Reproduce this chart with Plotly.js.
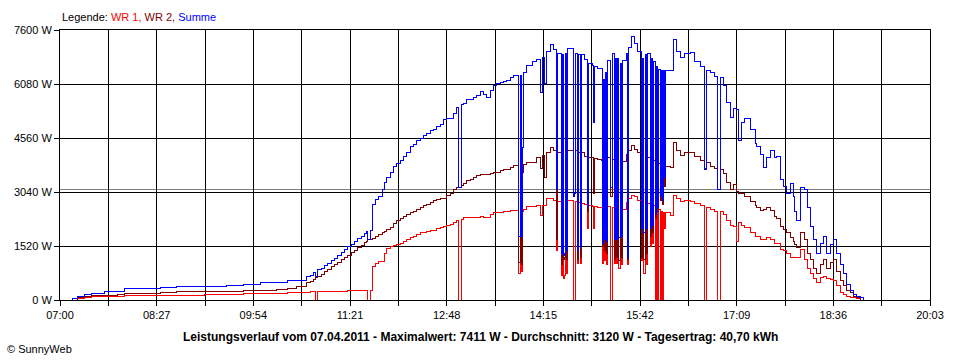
<!DOCTYPE html>
<html>
<head>
<meta charset="utf-8">
<script src="https://cdn.plot.ly/plotly-3.0.1.min.js"></script>
<style>
html,body{margin:0;padding:0;background:#fff;}
#chart{width:960px;height:360px;}
#chart .scatterlayer path, #chart .layer-below path, #chart .gridlayer path{shape-rendering:crispEdges;}
</style>
</head>
<body>
<div id="chart"></div>
<script>
// ---- data (time of day, watts) ----
const times = [
// morning
"07:08","07:11","07:16","07:22","07:28","07:40","07:52","07:58","08:15","08:30",
"08:45","09:10","09:30","09:45","10:00","10:15","10:25","10:33","10:42",
"10:45","10:48","10:50","10:52","10:55","10:58","11:01","11:04","11:07","11:10",
"11:13","11:16","11:19","11:22","11:25","11:28","11:31","11:34","11:36","11:37","11:39",
// midday ramp
"11:41","11:44","11:47","11:50","11:52","11:54","11:57","12:00","12:03","12:06",
"12:09","12:12","12:15","12:18","12:21","12:24","12:27","12:30","12:33","12:36",
"12:39","12:42","12:45","12:48","12:51","12:54","12:57","12:59","13:01","13:03",
"13:06","13:09","13:12","13:15","13:18","13:21","13:24","13:27","13:30","13:33",
"13:36","13:39","13:42","13:45","13:48","13:52",
// cloudy afternoon
"13:53","13:54","13:55","13:56","13:57","14:00","14:05",
"14:09","14:12","14:14","14:16","14:18","14:21","14:24","14:27","14:28","14:31",
"14:32","14:33","14:34","14:35","14:36","14:37","14:40","14:42","14:43","14:44",
"14:46","14:47","14:48","14:49","14:52","14:55","14:56","14:59","15:00","15:01",
"15:04","15:07","15:08","15:09","15:10","15:11","15:12","15:13","15:15","15:16",
"15:17","15:19","15:20","15:21","15:22","15:23","15:24","15:25","15:26","15:30",
"15:31","15:32","15:34","15:37","15:40","15:43","15:44","15:45","15:46","15:47",
"15:48","15:49","15:51","15:52","15:53","15:54","15:56","15:57","15:58","15:59",
"16:00","16:01","16:02","16:03","16:04","16:05","16:09","16:12","16:15","16:18",
"16:22","16:27","16:31","16:36","16:40","16:41","16:42","16:45","16:49","16:52",
"16:53","16:54","16:57","17:00","17:03","17:06","17:09","17:11","17:13","17:16",
"17:21","17:26","17:27","17:30","17:33","17:36","17:39","17:43","17:45","17:48",
"17:51","17:54","17:57","18:00","18:01","18:03","18:06","18:10","18:13","18:15",
"18:18","18:21","18:24","18:27","18:30","18:33","18:36","18:39","18:42","18:45",
"18:48","18:51","18:54","18:57","19:00","19:03"
];
const wr1 = [
0,0,50,60,95,95,95,140,140,140,
140,150,160,190,190,190,200,200,220,
230,235,0,235,235,235,235,235,240,240,
245,250,255,260,265,270,275,280,280,0,280,
940,1040,1070,1070,1320,1460,1500,1530,1550,1600,
1650,1690,1750,1800,1850,1890,1910,1930,1950,1970,
2000,2030,2060,2100,2130,2170,2250,0,2280,2310,
2310,2310,2310,2330,2340,2330,2330,2400,2450,2450,
2450,2480,2500,2520,2530,2530,
760,2530,800,2500,2560,2620,2620,
2670,2390,2670,2650,2870,2870,2800,1400,2760,700,
2800,600,700,2780,750,2810,2810,0,0,2760,
1040,2750,1040,2730,2680,2000,2650,2620,2000,2620,
2600,2590,1040,2590,1100,2600,1000,2620,0,0,
2590,1040,2560,1040,2550,900,2530,1000,2560,2750,
1000,2850,2950,2900,2800,1100,2780,760,760,2720,
1000,2720,1500,2700,1600,2650,0,2600,0,2550,
0,2500,0,2450,2000,2450,2390,2950,2850,2760,
2800,2760,2720,2670,0,0,2600,2550,2500,0,
0,2480,2400,2250,2100,2060,1650,2170,2100,2050,
1890,1800,1780,1690,1700,1750,1690,1600,1580,1410,
1380,1320,1200,1200,1210,1210,1410,1150,900,760,
600,480,620,650,600,580,560,400,200,150,
100,80,60,30,0,0
];
const wr2 = [
0,0,60,100,140,140,150,190,190,200,
235,235,240,280,280,290,330,375,480,
530,580,620,655,730,800,860,930,990,1050,
1130,1200,1260,1330,1400,1470,1540,1610,1660,1690,1700,
1720,1790,1850,1900,1940,1980,2050,2150,2250,2300,
2360,2420,2460,2500,2550,2590,2650,2700,2750,2800,
2830,2850,2870,2930,2990,3100,3180,3180,3230,3290,
3350,3400,3460,3500,3520,3530,3540,3570,3580,3600,
3640,3660,3680,3730,3780,3800,
1050,3800,1000,3600,3820,3880,3880,
4000,3700,4080,3460,4140,4280,4200,1700,4140,1000,
4150,1130,1200,4180,1130,4220,4220,2900,3000,4200,
1130,4150,1200,4140,4050,2500,4000,4000,3000,3980,
3950,3940,1500,3940,1400,3950,1300,4000,2900,2900,
3960,1130,3900,1200,3900,1100,3860,1200,3900,4100,
1130,4200,4360,4250,4150,1200,4100,1130,1130,4050,
1300,4000,1800,3960,1900,3940,2300,3900,2500,3850,
2800,3800,2700,3780,3200,3760,3740,4420,4200,4080,
4150,4140,4050,3940,3700,3700,3860,3750,3700,3100,
3100,3660,3550,3320,3100,3250,3050,3010,3010,2900,
2760,2650,2600,2530,2550,2600,2530,2350,2300,2060,
1980,1890,1750,1650,1550,1490,1890,1700,1300,1130,
900,760,1000,1130,900,1050,1130,800,560,400,
280,200,100,60,0,0
];
const summe = [
0,40,110,160,190,235,235,330,330,360,
375,390,420,440,490,500,540,560,650,
700,780,655,845,900,980,1040,1100,1170,1240,
1330,1420,1500,1570,1650,1720,1800,1870,1920,1690,1970,
2700,2830,2900,3100,3300,3460,3600,3745,3850,3940,
4050,4150,4310,4380,4480,4560,4620,4700,4760,4800,
4870,4950,5070,5100,5120,5260,5430,3180,5500,5540,
5630,5650,5700,5760,5860,5780,5690,5900,6050,6100,
6130,6150,6190,6250,6330,6330,
1780,6330,1800,4280,6400,6610,6700,
6760,5830,6840,6100,7000,7180,7050,3100,6950,1300,
6900,1250,1300,6950,1400,7090,7090,2900,3000,6950,
1400,6900,1500,6900,6760,2620,6650,6610,5000,6580,
6530,6530,1600,6200,1700,6400,1650,6750,3180,3180,
6950,1700,6800,1690,6800,1750,6670,1800,6750,6950,
1200,7100,7411,7230,7000,2000,6800,1890,1890,6900,
2000,6950,2000,6800,2100,6700,2400,6560,2600,6500,
2900,6470,2800,6470,3460,6470,6470,7320,7000,6840,
6950,6980,6700,6560,3660,3660,6470,6390,6300,3100,
3100,6250,6050,5570,5150,5400,5350,4500,5000,5100,
4790,4400,4310,4100,3740,4000,4220,4000,4030,3380,
3200,3010,3290,2900,2500,2250,3180,3100,2600,2060,
1700,1320,1600,1780,1320,1550,1690,1320,1000,760,
450,280,150,90,60,0
];
const durchschnitt = 3120;
const xTickLabels = ["07:00","","08:27","","09:54","","11:21","","12:48","","14:15","","15:42","","17:09","","18:36","","20:03"];
const yTickValues = [0,1520,3040,4560,6080,7600];
const seriesNames = ["WR 1","WR 2","Summe"];
const titleText = "Leistungsverlauf vom 07.04.2011 - Maximalwert: 7411 W - Durchschnitt: 3120 W - Tagesertrag: 40,70 kWh";

// ---- helpers ----
function toMin(s){ const p = s.split(":"); return (+p[0])*60 + (+p[1]); }
const xs = times.map(toMin);
const x0 = toMin(xTickLabels[0]);
const x1 = toMin(xTickLabels[xTickLabels.length-1]);
const step = (x1 - x0) / (xTickLabels.length - 1);
const xTickVals = xTickLabels.map((_, i) => x0 + i*step);

const FONT = "Liberation Sans, Arial, sans-serif";
function trace(y, name, color){
  return {x: xs, y: y, name: name, type: "scatter", mode: "lines",
          line: {color: color, width: 1, shape: "hv"}, hoverinfo: "skip"};
}
const data = [
  trace(wr1, seriesNames[0], "#ff0000"),
  trace(wr2, seriesNames[1], "#800000"),
  trace(summe, seriesNames[2], "#0000ff")
];

const axisCommon = {
  showline: true, mirror: true, linecolor: "#000", linewidth: 1,
  showgrid: true, gridcolor: "#000", gridwidth: 1, zeroline: false,
  ticks: "outside", ticklen: 5, tickcolor: "#000", tickwidth: 1,
  tickfont: {family: FONT, size: 11, color: "#000"}, fixedrange: true
};

const layout = {
  width: 960, height: 360,
  margin: {l: 60, r: 30, t: 30, b: 60, pad: 0},
  paper_bgcolor: "#fff", plot_bgcolor: "#fff",
  showlegend: false,
  font: {family: FONT, size: 11, color: "#000"},
  xaxis: Object.assign({}, axisCommon, {
    range: [x0, x1], tickmode: "array", tickvals: xTickVals, ticktext: xTickLabels
  }),
  yaxis: Object.assign({}, axisCommon, {
    range: [0, 7600], tickmode: "array", tickvals: yTickValues,
    ticktext: yTickValues.map(v => v + " W")
  }),
  shapes: [{
    type: "line", xref: "paper", x0: 0, x1: 1, yref: "y", y0: durchschnitt, y1: durchschnitt,
    line: {color: "#808080", width: 1}, layer: "below"
  }],
  annotations: [
    {xref: "paper", yref: "paper", x: 0, y: (300-17)/270, xanchor: "left", yanchor: "middle",
     showarrow: false, font: {family: FONT, size: 11, color: "#000"},
     text: 'Legende: <span style="color:#ff0000">' + seriesNames[0] + ',</span> <span style="color:#800000">' +
           seriesNames[1] + ',</span> <span style="color:#0000ff">' + seriesNames[2] + '</span>'},
    {xref: "paper", yref: "paper", x: (480-60)/870, y: (300-337)/270, xanchor: "center", yanchor: "middle",
     showarrow: false, font: {family: FONT, size: 12, color: "#000"}, text: "<b>" + titleText + "</b>"},
    {xref: "paper", yref: "paper", x: (5-60)/870, y: (300-349)/270, xanchor: "left", yanchor: "middle",
     showarrow: false, font: {family: FONT, size: 11, color: "#000"}, text: "© SunnyWeb"}
  ]
};

Plotly.newPlot("chart", data, layout, {staticPlot: true, displayModeBar: false});
</script>
</body>
</html>
